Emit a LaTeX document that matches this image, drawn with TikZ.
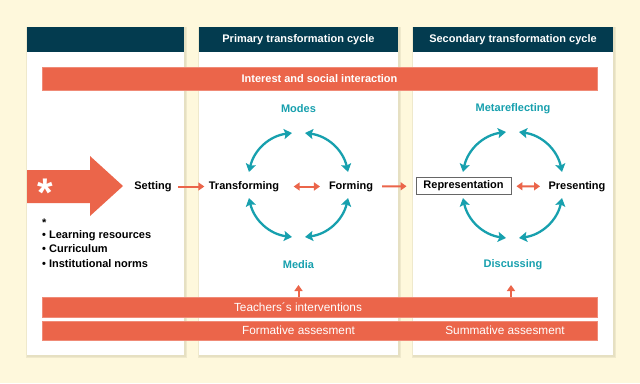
\documentclass[tikz,border=0pt]{standalone}
\usepackage{fontspec}
\setmainfont{Liberation Sans}
\usetikzlibrary{arrows.meta}
\definecolor{bgc}{HTML}{FEF8DC}
\definecolor{navy}{HTML}{033B4F}
\definecolor{orng}{HTML}{EB654A}
\definecolor{tealc}{HTML}{17A0AE}
\definecolor{shadc}{HTML}{E6E0C2}
\begin{document}
\begin{tikzpicture}[x=1pt,y=-1pt,
  hdrtxt/.style={text=white,font=\fontsize{11}{13}\selectfont\bfseries},
  barbox/.style={fill=orng,draw=orng!75!white,line width=0.6pt,inner sep=0pt},
  bartxt/.style={text=white,font=\fontsize{11.8}{14}\selectfont},
  barbold/.style={text=white,font=\fontsize{11}{13}\selectfont\bfseries},
  lbl/.style={text=black,font=\fontsize{11}{13}\selectfont\bfseries,text height=8pt,text depth=2.5pt},
  cyclbl/.style={text=tealc,font=\fontsize{11}{13}\selectfont\bfseries},
  rarrow/.style={draw=orng,line width=2pt,-{Triangle[length=6pt,width=8pt]}},
  rdouble/.style={draw=orng,line width=2pt,{Triangle[length=6pt,width=8pt]}-{Triangle[length=6pt,width=8pt]}},
  cyc/.style={draw=tealc,line width=2.3pt,{Stealth[length=8pt,width=10pt,inset=1.5pt]}-{Stealth[length=8pt,width=10pt,inset=1.5pt]}}
]
\fill[bgc] (0,0) rectangle (640,383);
\useasboundingbox (0,0) rectangle (640,383);

% panels with soft shadows
\foreach \l/\r in {27/184,199/398,413/613}{
  \fill[shadc,opacity=0.6] (\l-1,27) rectangle (\r+3,358);
  \fill[shadc] (\l-0.5,27) rectangle (\r+1.6,356.6);
  \fill[white] (\l,27) rectangle (\r,355);
  \fill[navy] (\l,27) rectangle (\r,52);
}
\node[hdrtxt] (hdr2) at (298.5,40) {Primary transformation cycle};
\node[hdrtxt] (hdr3) at (513,40) {Secondary transformation cycle};

% bars
\node[barbox,minimum width=555pt,minimum height=23pt,barbold] (interest) at (319.5,78.5) {Interest and social interaction};
\node[barbox,minimum width=555pt,minimum height=20pt] (teachbar) at (319.5,307) {};
\node[barbox,minimum width=555pt,minimum height=19pt] (assessbar) at (319.5,330.5) {};
\node[bartxt] (teachtxt) at (298,307) {Teachers´s interventions};
\node[bartxt] (formtxt) at (298.5,330.5) {Formative assesment};
\node[bartxt] (summtxt) at (505,330.5) {Summative assesment};

% big arrow
\fill[orng] (27,170) -- (90,170) -- (90,156) -- (123,186) -- (90,216) -- (90,203) -- (27,203) -- cycle;
\node[text=white,font=\fontsize{40}{42}\selectfont\bfseries,anchor=base,inner sep=0pt] (bigstar) at (45,206) {*};

% left list
\node[lbl,anchor=base west,inner sep=0pt] (star) at (42,226) {*};
\node[lbl,anchor=base west,inner sep=0pt] (li1) at (42,238) {•~Learning resources};
\node[lbl,anchor=base west,inner sep=0pt] (li2) at (42,252.5) {•~Curriculum};
\node[lbl,anchor=base west,inner sep=0pt] (li3) at (42,267) {•~Institutional norms};

% main labels
\node[lbl] (setting) at (153,186.5) {Setting};
\node[lbl] (transf) at (244,186.5) {Transforming};
\node[lbl] (forming) at (351,186.5) {Forming};
\node[lbl,draw=black!60,line width=0.9pt,minimum width=95pt,minimum height=17pt,inner sep=1pt] (repr) at (463.5,186) {Representation};
\node[lbl] (present) at (577,186.5) {Presenting};

\node[cyclbl] (modes) at (298.5,108.5) {Modes};
\node[cyclbl] (media) at (298.5,264.5) {Media};
\node[cyclbl] (meta) at (513,108.5) {Metareflecting};
\node[cyclbl] (disc) at (513,264.5) {Discussing};

% red arrows
\draw[rarrow,shorten <=3pt,shorten >=1pt] (setting) -- (transf);
\draw[rdouble,shorten <=11pt,shorten >=5.5pt] (transf) -- (forming);
\draw[rarrow,shorten <=5.5pt,shorten >=9pt] (forming) -- (repr);
\draw[rdouble,shorten <=5pt,shorten >=5pt] (repr) -- (present);

\coordinate (up1) at (298.5,285);
\coordinate (up2) at (511,285);
\draw[rarrow] (teachbar.north -| up1) -- (up1);
\draw[rarrow] (teachbar.north -| up2) -- (up2);

% cycle 1
\coordinate (c1t1) at (292,133);
\coordinate (c1t2) at (305,133);
\coordinate (c1l1) at (249,172);
\coordinate (c1r1) at (348,172);
\coordinate (c1l2) at (249,198);
\coordinate (c1r2) at (348,198);
\coordinate (c1b1) at (292,237);
\coordinate (c1b2) at (305,237);
\draw[cyc] (c1t1) to[bend right=35] (c1l1);
\draw[cyc] (c1t2) to[bend left=35] (c1r1);
\draw[cyc] (c1l2) to[bend right=35] (c1b1);
\draw[cyc] (c1r2) to[bend left=35] (c1b2);

% cycle 2
\coordinate (c2t1) at (506,132);
\coordinate (c2t2) at (519,132);
\coordinate (c2l1) at (463,172);
\coordinate (c2r1) at (562,172);
\coordinate (c2l2) at (463,198);
\coordinate (c2r2) at (562,198);
\coordinate (c2b1) at (506,238);
\coordinate (c2b2) at (519,238);
\draw[cyc] (c2t1) to[bend right=35] (c2l1);
\draw[cyc] (c2t2) to[bend left=35] (c2r1);
\draw[cyc] (c2l2) to[bend right=35] (c2b1);
\draw[cyc] (c2r2) to[bend left=35] (c2b2);
\end{tikzpicture}
\end{document}
